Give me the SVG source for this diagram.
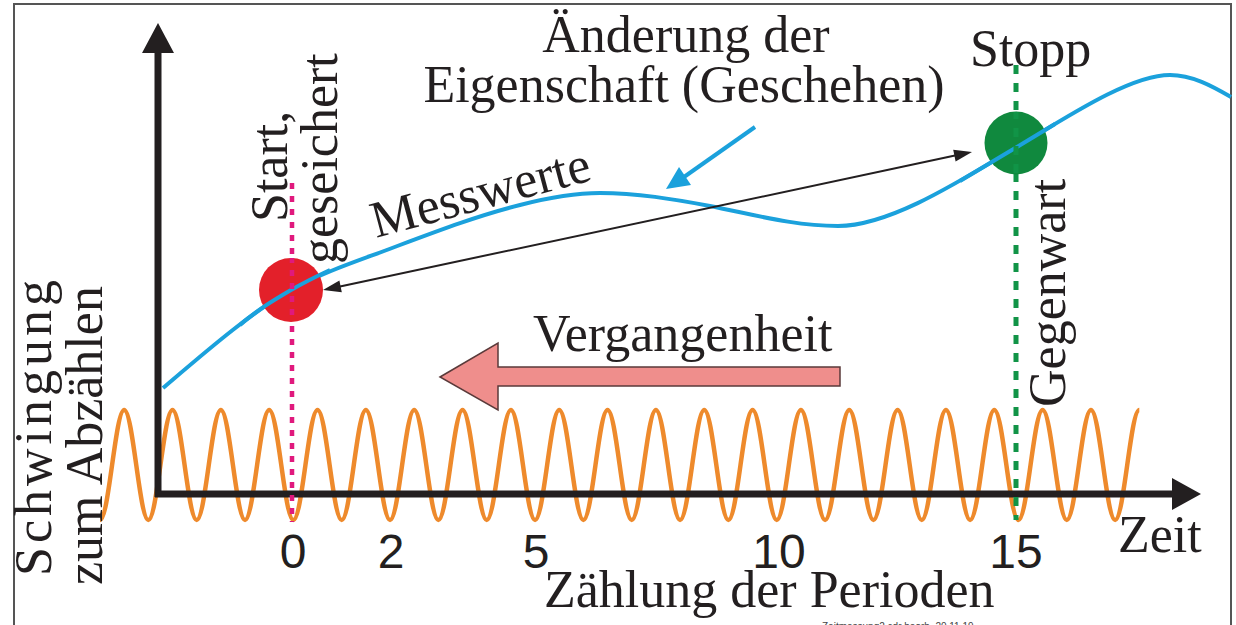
<svg xmlns="http://www.w3.org/2000/svg" width="1236" height="625" viewBox="0 0 1236 625">
<style>
.t{font-family:"Liberation Serif","Times New Roman",serif;font-size:52px;fill:#231f20}
.n{font-family:"Liberation Sans",Arial,sans-serif;font-size:48px;fill:#231f20;text-anchor:middle}
.axis{stroke:#231f20;stroke-width:7;fill:none}
.ah{fill:#231f20}
</style>
<rect x="0" y="0" width="1236" height="625" fill="#ffffff"/>
<rect x="14" y="4" width="1217" height="650" fill="none" stroke="#555" stroke-width="2"/>

<g id="wave">
<path fill="none" stroke="#ee8a2c" stroke-width="4.5" d="M100,520 c8.78,0 15.39,-110 24.17,-110 s15.39,110 24.17,110 s15.39,-110 24.17,-110 s15.39,110 24.17,110 s15.39,-110 24.17,-110 s15.39,110 24.17,110 s15.39,-110 24.17,-110 s15.39,110 24.17,110 s15.39,-110 24.17,-110 s15.39,110 24.17,110 s15.39,-110 24.17,-110 s15.39,110 24.17,110 s15.39,-110 24.17,-110 s15.39,110 24.17,110 s15.39,-110 24.17,-110 s15.39,110 24.17,110 s15.39,-110 24.17,-110 s15.39,110 24.17,110 s15.39,-110 24.17,-110 s15.39,110 24.17,110 s15.39,-110 24.17,-110 s15.39,110 24.17,110 s15.39,-110 24.17,-110 s15.39,110 24.17,110 s15.39,-110 24.17,-110 s15.39,110 24.17,110 s15.39,-110 24.17,-110 s15.39,110 24.17,110 s15.39,-110 24.17,-110 s15.39,110 24.17,110 s15.39,-110 24.17,-110 s15.39,110 24.17,110 s15.39,-110 24.17,-110 s15.39,110 24.17,110 s15.39,-110 24.17,-110 s15.39,110 24.17,110 s15.39,-110 24.17,-110 s15.39,110 24.17,110 s15.39,-110 24.17,-110 s15.39,110 24.17,110 s15.39,-110 24.17,-110 s15.39,110 24.17,110 s15.39,-110 24.17,-110"/>
</g>

<g id="axes">
<line class="axis" x1="158" y1="50" x2="158" y2="497"/>
<polygon class="ah" points="158,23 142,53 174,53"/>
<line class="axis" x1="155" y1="494" x2="1175" y2="494"/>
<polygon class="ah" points="1201,494 1172,478 1172,510"/>
</g>

<g id="markers">
<line x1="292" y1="183" x2="292" y2="522" stroke="#e0197d" stroke-width="4.5" stroke-dasharray="6,7"/>
<line x1="1016" y1="65" x2="1016" y2="520" stroke="#119447" stroke-width="5" stroke-dasharray="9,9"/>
</g>

<g id="curve">
<path fill="none" stroke="#1ba1dc" stroke-width="4" d="M163,388 C203,354 251,312 291,290 C327,270 364,259 400,245 C440,230 480,215 520,205 C547,198 573,193 600,193 C637,193 673,199 710,206 C755,215 795,226 838,226 C890,226 960,181 1017,147 C1067,117 1130,75 1170,75 C1192,75 1212,86 1231,97"/>
</g>

<g id="node-start">
<circle cx="291" cy="290" r="32" fill="#e3202a"/>
</g>
<g id="node-stop">
<circle cx="1016" cy="143" r="31.5" fill="#10893e"/>
</g>
<g id="curve-over">
<path fill="none" stroke="#1ba1dc" stroke-width="4" d="M240,325 C257,310 274,300 291,290 C305,282 315,277 330,270 M960,181 C985,166 1000,157 1017,147 C1030,139 1040,133 1055,124"/>
<line x1="292" y1="258" x2="292" y2="322" stroke="#e0197d" stroke-width="4.5" stroke-dasharray="6,7" stroke-dashoffset="1"/>
<line x1="1016" y1="112" x2="1016" y2="175" stroke="#119447" stroke-width="5" stroke-dasharray="9,9" stroke-dashoffset="2"/>
</g>

<g id="connectors">
<line x1="340" y1="286.4" x2="955" y2="155.6" stroke="#231f20" stroke-width="2"/>
<polygon class="ah" points="323,290 341.8,292.2 339.4,280.4"/>
<polygon class="ah" points="972,152 955.6,161.6 953.2,149.8"/>
<line x1="755" y1="127" x2="684" y2="177" stroke="#1ba1dc" stroke-width="4"/>
<polygon fill="#1ba1dc" points="666,189 691,185 679,167"/>
<polygon fill="#ef8e8c" stroke="#5a3a3a" stroke-width="1.5" points="440,377 498,343 498,367 840,367 840,386 498,386 498,410"/>
</g>

<g id="labels">
<text class="t" x="686" y="52" text-anchor="middle">Änderung der</text>
<text class="t" x="684" y="102" text-anchor="middle" font-size="53">Eigenschaft (Geschehen)</text>
<text class="t" x="970" y="66">Stopp</text>
<text class="t" x="533" y="351">Vergangenheit</text>
<text class="t" transform="translate(376,238) rotate(-15)" font-size="51">Messwerte</text>
<text class="t" transform="translate(287,222) rotate(-90)" font-size="50">Start,</text>
<text class="t" transform="translate(337,264) rotate(-90)">geseichert</text>
<text class="t" transform="translate(1065,407) rotate(-90)">Gegenwart</text>
<text class="t" transform="translate(51,576) rotate(-90)" textLength="296" lengthAdjust="spacing">Schwingung</text>
<text class="t" transform="translate(102,585) rotate(-90)">zum Abzählen</text>
<text class="t" x="1118" y="552">Zeit</text>
<text class="t" x="544" y="607" font-size="53">Zählung der Perioden</text>
<text class="n" x="293" y="568">0</text>
<text class="n" x="391" y="568">2</text>
<text class="n" x="536" y="568">5</text>
<text class="n" x="779" y="568">10</text>
<text class="n" x="1016" y="568">15</text>
<text x="822" y="630" font-family="Liberation Sans, Arial, sans-serif" font-size="10" fill="#444">Zeitmessung2.cdr bearb. 20.11.19</text>
</g>
</svg>
